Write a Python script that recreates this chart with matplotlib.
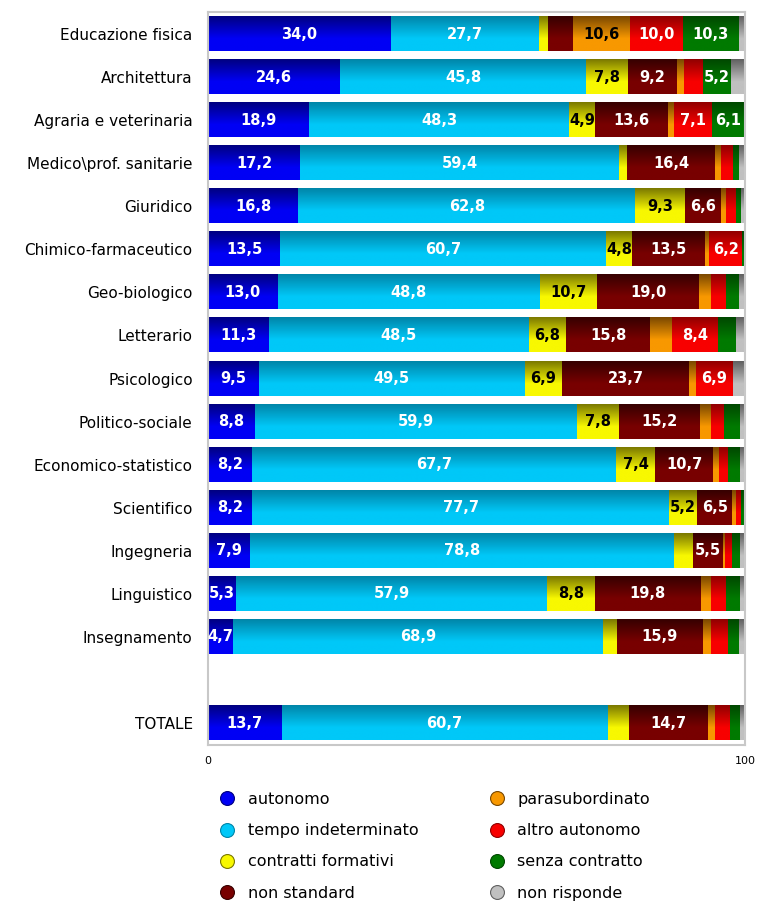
import numpy as np
import matplotlib
matplotlib.use("Agg")
import matplotlib.pyplot as plt
from matplotlib.colors import LinearSegmentedColormap
from matplotlib.lines import Line2D

categories = ["Educazione fisica", "Architettura", "Agraria e veterinaria",
              "Medico\\prof. sanitarie", "Giuridico", "Chimico-farmaceutico",
              "Geo-biologico", "Letterario", "Psicologico", "Politico-sociale",
              "Economico-statistico", "Scientifico", "Ingegneria", "Linguistico",
              "Insegnamento", "TOTALE"]

series_names = ["autonomo", "tempo indeterminato", "contratti formativi",
                "non standard", "parasubordinato", "altro autonomo",
                "senza contratto", "non risponde"]

autonomo       = [34.0, 24.6, 18.9, 17.2, 16.8, 13.5, 13.0, 11.3, 9.5, 8.8, 8.2, 8.2, 7.9, 5.3, 4.7, 13.7]
indeterminato  = [27.7, 45.8, 48.3, 59.4, 62.8, 60.7, 48.8, 48.5, 49.5, 59.9, 67.7, 77.7, 78.8, 57.9, 68.9, 60.7]
formativi      = [1.7, 7.8, 4.9, 1.4, 9.3, 4.8, 10.7, 6.8, 6.9, 7.8, 7.4, 5.2, 3.7, 8.8, 2.6, 4.0]
non_standard   = [4.5, 9.2, 13.6, 16.4, 6.6, 13.5, 19.0, 15.8, 23.7, 15.2, 10.7, 6.5, 5.5, 19.8, 15.9, 14.7]
parasubord     = [10.6, 1.2, 1.1, 1.1, 1.0, 0.8, 2.2, 4.1, 1.2, 2.0, 1.2, 0.7, 0.4, 1.9, 1.5, 1.4]
altro_autonomo = [10.0, 3.6, 7.1, 2.3, 1.8, 6.2, 2.7, 8.4, 6.9, 2.3, 1.6, 0.9, 1.3, 2.8, 3.3, 2.7]
senza_contr    = [10.3, 5.2, 6.1, 1.1, 0.9, 0.5, 2.5, 3.4, 0.0, 3.0, 2.3, 0.8, 1.5, 2.6, 2.0, 1.9]
non_risponde   = [1.2, 2.6, 0.0, 1.1, 0.8, 0.0, 1.1, 1.7, 2.3, 1.0, 0.9, 0.0, 0.9, 0.9, 1.1, 0.9]

series = [autonomo, indeterminato, formativi, non_standard,
          parasubord, altro_autonomo, senza_contr, non_risponde]

# (top colour, bottom colour) of the vertical gradient
grad_colors = [("#000080", "#0000f5"), ("#0085a8", "#00c8f8"),
               ("#7a7800", "#f8f800"), ("#360000", "#780000"),
               ("#7a4800", "#f89800"), ("#900000", "#f80000"),
               ("#004800", "#007a00"), ("#606060", "#c0c0c0")]
text_colors = ["white", "white", "black", "white", "black", "white", "white", "white"]

# 15 faculties, one empty slot, then TOTALE
ypos = list(range(15)) + [16]
bar_h = 0.79

fig = plt.figure(figsize=(7.63, 9.05), dpi=100)
ax = fig.add_axes([0.2726, 0.1773, 0.7038, 0.8089])

ramp = np.concatenate([np.linspace(0, 1, 65), np.ones(35)]).reshape(-1, 1)

left = np.zeros(len(categories))
for vals, (ctop, cbot), tc in zip(series, grad_colors, text_colors):
    vals = np.array(vals)
    bars = ax.barh(ypos, vals, left=left, height=bar_h, color=cbot, linewidth=0)
    cmap = LinearSegmentedColormap.from_list("g", [ctop, cbot])
    for b, v in zip(bars, vals):
        if v <= 0:
            continue
        x0, y0, w, h = b.get_x(), b.get_y(), b.get_width(), b.get_height()
        ax.imshow(ramp, cmap=cmap, aspect="auto", origin="upper",
                  extent=(x0, x0 + w, y0 + h, y0), interpolation="bilinear",
                  vmin=0, vmax=1, zorder=2)
        if v >= 4.6:
            ax.text(x0 + w / 2, y0 + h / 2, f"{v:.1f}".replace(".", ","),
                    ha="center", va="center", color=tc, fontsize=10.5,
                    fontweight="bold", zorder=3)
    left += vals

ax.set_xlim(0, 100)
ax.set_ylim(16.5, -0.5)
ax.set_yticks(ypos)
ax.set_yticklabels(categories, fontsize=11)
ax.set_xticks([0, 100])
ax.set_xticklabels(["0", "100"], fontsize=8)
ax.tick_params(length=0)
ax.tick_params(axis="y", pad=11)
ax.tick_params(axis="x", pad=8)
for s in ax.spines.values():
    s.set_color("#c8c8c8")
    s.set_linewidth(1.5)

handles = [Line2D([], [], marker="o", linestyle="none", markersize=10,
                  markerfacecolor=cb, markeredgecolor=ct, markeredgewidth=0.8)
           for ct, cb in grad_colors]
fig.legend(handles, series_names, loc="upper left", bbox_to_anchor=(0.287, 0.125),
           ncol=2, frameon=False, fontsize=11.5, labelspacing=1.02,
           handlelength=1.0, handletextpad=0.8, columnspacing=4.4,
           borderaxespad=0, borderpad=0)

fig.savefig("out.png", dpi=100)
